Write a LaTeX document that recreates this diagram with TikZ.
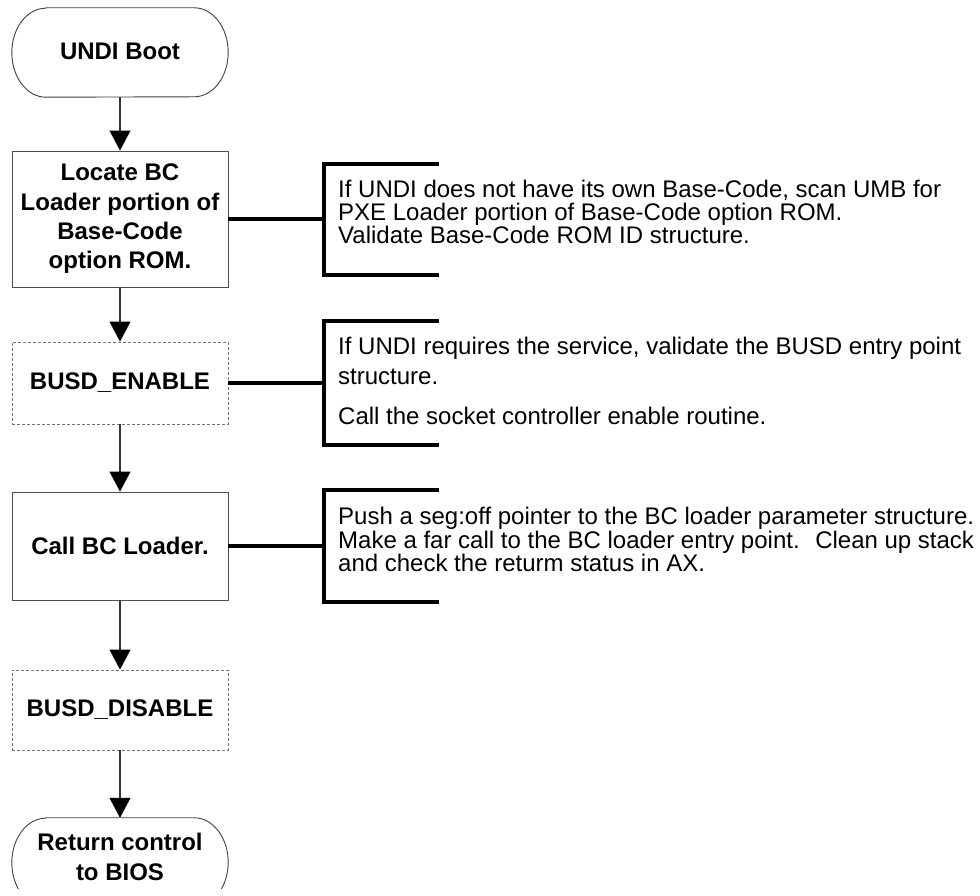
\documentclass[tikz,border=0pt]{standalone}
\usepackage{fontspec}
\setmainfont{Liberation Sans}
\usetikzlibrary{arrows.meta}

\begin{document}
\begin{tikzpicture}[x=1pt,y=1pt,
  flow/.style={draw=black!80, line width=1.1pt, -{Triangle[length=20pt,width=21pt,color=black]}},
  stepbox/.style={draw=black!70, line width=0.9pt, minimum width=216pt, inner sep=0pt,
    font=\bfseries\fontsize{24}{29.3}\selectfont, align=center},
  optbox/.style={stepbox, draw=black!55, dash pattern=on 3pt off 2pt},
  termbox/.style={draw=none, minimum width=216pt, minimum height=89pt, inner sep=0pt},
  termline/.style={draw=black!75, line width=0.9pt},
  termtext/.style={inner sep=0pt, font=\bfseries\fontsize{24}{30}\selectfont, align=center},
  link/.style={line width=3.2pt, black},
  bracket/.style={line width=3.3pt, black, line join=miter},
  note/.style={anchor=base west, inner sep=0pt, font=\fontsize{24}{24}\selectfont}
]
\useasboundingbox (0,0) rectangle (980,896);

% ---- flow chart column ----
\node[termbox] (start) at (120,843.5) {};
\node[termtext] (starttext) at (120,844.6) {UNDI Boot};
\node[stepbox, minimum height=136pt] (locate) at (120,677) {Locate BC\\Loader portion of\\Base-Code\\option ROM.};
\node[optbox, minimum height=82pt] (enable) at (120,513) {BUSD\_ENABLE};
\node[stepbox, minimum height=108pt] (call) at (120,350) {Call BC Loader.};
\node[optbox, minimum height=80pt] (disable) at (120,186) {BUSD\_DISABLE};
\node[termbox] (ret) at (120,33.5) {};
\node[termtext] (rettext) at (120,38.8) {Return control\\to BIOS};

% terminal outlines with elliptical ends
\draw[termline] ([xshift=34pt]start.north west) -- ([xshift=-34pt]start.north east)
  arc[start angle=90, end angle=-90, x radius=34, y radius=44.5]
  -- ([xshift=34pt]start.south west)
  arc[start angle=270, end angle=90, x radius=34, y radius=44.5] -- cycle;
\begin{scope}
  \clip (0,7) rectangle (980,896);
  \draw[termline] ([xshift=34pt]ret.north west) -- ([xshift=-34pt]ret.north east)
    arc[start angle=90, end angle=-90, x radius=34, y radius=44.5]
    -- ([xshift=34pt]ret.south west)
    arc[start angle=270, end angle=90, x radius=34, y radius=44.5] -- cycle;
\end{scope}

% ---- arrows between steps ----
\draw[flow] (start.south) -- (locate.north);
\draw[flow] (locate.south) -- (enable.north);
\draw[flow] (enable.south) -- (call.north);
\draw[flow] (call.south) -- (disable.north);
\draw[flow] (disable.south) -- (ret.north);

% ---- annotation brackets ----
\coordinate (b1) at (324,676);
\coordinate (b2) at (324,514);
\coordinate (b3) at (324,349);
\draw[bracket] (439,732) -- (324,732) -- (324,621) -- (439,621);
\draw[bracket] (439,575) -- (324,575) -- (324,451) -- (439,451);
\draw[bracket] (439,406) -- (324,406) -- (324,294) -- (439,294);
\draw[link] (locate.east) -- (locate.east -| b1);
\draw[link] (enable.east) -- (enable.east -| b2);
\draw[link] (call.east) -- (call.east -| b3);

% ---- annotation texts ----
\node[note] (n1a) at (338,698) {If UNDI does not have its own Base-Code, scan UMB for};
\node[note] (n1b) at (338,675) {PXE Loader portion of Base-Code option ROM.};
\node[note] (n1c) at (338,652) {Validate Base-Code ROM ID structure.};

\node[note] (n2a) at (338,541) {If UNDI requires the service, validate the BUSD entry point};
\node[note] (n2b) at (338,511) {structure.};
\node[note] (n2c) at (338,471) {Call the socket controller enable routine.};

\node[note] (n3a) at (338,371) {Push a seg:off pointer to the BC loader parameter structure.};
\node[note] (n3b) at (338,347.5) {Make a far call to the BC loader entry point.~ Clean up stack};
\node[note] (n3c) at (338,324) {and check the returm status in AX.};
\end{tikzpicture}
\end{document}
